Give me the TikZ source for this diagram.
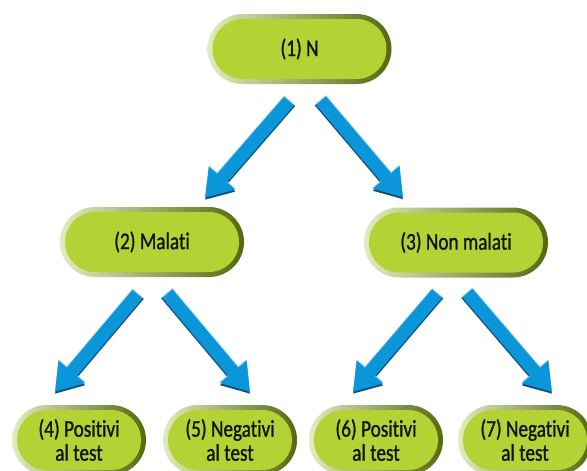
\documentclass[tikz,border=0pt]{standalone}
\usepackage{fontspec}
\setmainfont{Carlito}[FakeStretch=0.8, FakeBold=1, Ligatures=NoCommon]
\usetikzlibrary{calc,arrows.meta}
\definecolor{verdefill}{HTML}{B3D234}
\definecolor{bordochiaro}{HTML}{E4EBBE}
\definecolor{bordoscuro}{HTML}{56670F}
\definecolor{testo}{HTML}{121212}
\definecolor{blu}{HTML}{0A96D8}
\definecolor{bluscuro}{HTML}{0D4F7C}
\definecolor{bluchiaro}{HTML}{8CC8EC}

\begin{document}
\begin{tikzpicture}[x=1pt,y=-1pt,
  pill/.style={rectangle, rounded corners=35pt, minimum width=184pt, minimum height=70pt, inner sep=0pt,
    left color=bordochiaro, right color=bordoscuro, font=\fontsize{24}{24}\selectfont, text=testo, align=center,
    path picture={\fill[verdefill, rounded corners=30pt] ([xshift=5pt,yshift=-5pt]path picture bounding box.north west) rectangle ([xshift=-5pt,yshift=5pt]path picture bounding box.south east);}},
  pillb/.style={pill, minimum width=134pt},
  fr/.style={-{Triangle[length=26pt,width=33pt]}, line width=13pt}]
  \useasboundingbox (0,0) rectangle (587,471);
  % nodi
  \node[pill] (n1) at (299.5,49) {(1) N};
  \node[pill] (n2) at (152,242) {(2) Malati};
  \node[pill] (n3) at (456,242.5) {(3) Non malati};
  \node[pillb] (n4) at (79,440) {(4) Positivi\\al test};
  \node[pillb] (n5) at (230,440) {(5) Negativi\\al test};
  \node[pillb] (n6) at (376,440) {(6) Positivi\\al test};
  \node[pillb] (n7) at (525,440) {(7) Negativi\\al test};
  % estremi delle frecce
  \coordinate (a1s) at ($(n1.south)+(-10.5,17)$); \coordinate (a1e) at ($(n2.north)+(53,-9)$);
  \coordinate (a2s) at ($(n1.south)+(21.5,16.5)$); \coordinate (a2e) at ($(n3.north)+(-53,-10)$);
  \coordinate (a3s) at ($(n2.south)+(-14.5,17)$); \coordinate (a3e) at ($(n4.north)+(-24,-13)$);
  \coordinate (a4s) at ($(n2.south)+(15.5,16.5)$); \coordinate (a4e) at ($(n5.north)+(20,-13)$);
  \coordinate (a5s) at ($(n3.south)+(-19,16)$); \coordinate (a5e) at ($(n6.north)+(-23,-13)$);
  \coordinate (a6s) at ($(n3.south)+(11.5,15.5)$); \coordinate (a6e) at ($(n7.north)+(27,-13)$);
  \foreach \i in {1,...,6}{
    \draw[fr, bluscuro, transform canvas={yshift=-2pt}, shorten <=-2pt] (a\i s) -- (a\i e);
    \draw[fr, bluchiaro, transform canvas={yshift=1.3pt}] (a\i s) -- (a\i e);
    \draw[fr, blu] (a\i s) -- (a\i e);}
\end{tikzpicture}
\end{document}
